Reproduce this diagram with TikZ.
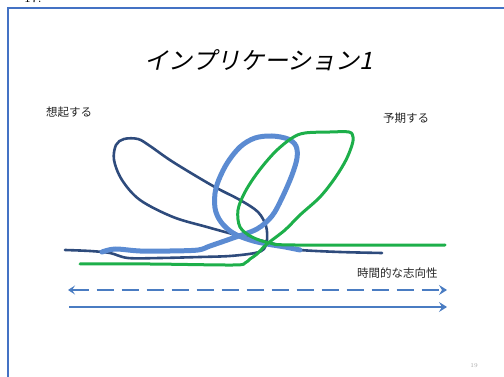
\documentclass[tikz,border=0pt]{standalone}
\usepackage{fontspec}
\usetikzlibrary{arrows.meta}
\newfontfamily\jpfont{Noto Sans CJK JP}
\newfontfamily\jpitfont[FakeSlant=0.22]{Noto Sans CJK JP}
\definecolor{frameblue}{HTML}{4472C4}
\definecolor{navyline}{HTML}{2E4B7C}
\definecolor{midblue}{HTML}{5B8BD2}
\definecolor{greenline}{HTML}{1DAF4A}
\definecolor{arrowblue}{HTML}{4A7CC2}
\tikzset{
  label/.style={inner sep=0pt, font=\jpfont\fontsize{11.5}{12}\selectfont, text=black!85},
  timearrow/.style={draw=arrowblue, line width=2pt, -{Stealth[length=8pt,width=10pt,inset=3pt]}},
  hand/.style={smooth, tension=0.55, line cap=round, line join=round}
}
\begin{document}
\begin{tikzpicture}[x=1pt,y=-1pt]
\useasboundingbox (0,0) rectangle (504,377);
\begin{scope}
\clip (0,0) rectangle (504,377);
\node[anchor=base west, inner sep=0pt, font=\fontsize{14}{14}\selectfont] (pg) at (24,3) {17.};
\end{scope}
% frame
\draw[frameblue, line width=2pt] (8,380) -- (8,8) -- (510,8);
% title
\node[inner sep=0pt, font=\jpitfont\fontsize{24}{26}\selectfont] (title) at (259,60) {インプリケーション1};
% labels
\node[label, anchor=west] (recall) at (46,112) {想起する};
\node[label, anchor=west] (expect) at (383,118) {予期する};
\node[label, anchor=west] (orient) at (357,273) {時間的な志向性};
% navy curve
\draw[navyline, line width=2.6pt, hand] plot coordinates {
 (382,253) (340,252) (300,250) (285,247) (267,242) (250,238) (240,236) (207,227) (173,217) (140,200) (122,180)
 (114,160) (116,145) (124,139) (138,139) (150,146) (173,162) (213,186) (240,200) (258,212) (266,226)
 (267,240) (264,249) (255,253) (230,256) (200,257) (160,258) (128,258) (110,253) (90,251) (65,250)};
% thick blue curve
\draw[midblue, line width=5pt, hand] plot coordinates {
 (102,252) (115,249) (140,251) (170,251) (198,250) (210,246) (233,238) (257,229) (272,216) (282,198)
 (292,175) (297,158) (296,146) (288,139) (272,136) (255,138) (240,147) (226,165) (216,188) (215,208)
 (221,222) (233,233) (250,240) (267,244) (285,247) (300,250)};
% green curve
\draw[greenline, line width=3pt, hand] plot coordinates {
 (80,264) (150,264) (233,265) (245,263) (250,259) (257,254) (267,244) (285,230) (300,215) (320,197) (335,178)
 (346,160) (352,145) (353,137) (349,132) (330,132) (305,133) (292,138) (275,152) (258,172)
 (245,192) (238,210) (240,227) (252,237) (270,243) (295,245) (445,245)};
% arrows
\coordinate (dl) at (68,290);
\coordinate (dr) at (447,290);
\coordinate (sl) at (69,307);
\coordinate (sr) at (447,307);
\draw[timearrow, {Stealth[length=7pt,width=9pt,inset=3pt]}-{Stealth[length=8pt,width=10pt,inset=3pt]}, dash pattern=on 17pt off 8pt] (dl) -- (dr);
\draw[timearrow] (sl) -- (sr);
% page number
\node[inner sep=0pt, font=\fontsize{6}{6}\selectfont, text=black!35] (num) at (474,366) {19};
\end{tikzpicture}
\end{document}
